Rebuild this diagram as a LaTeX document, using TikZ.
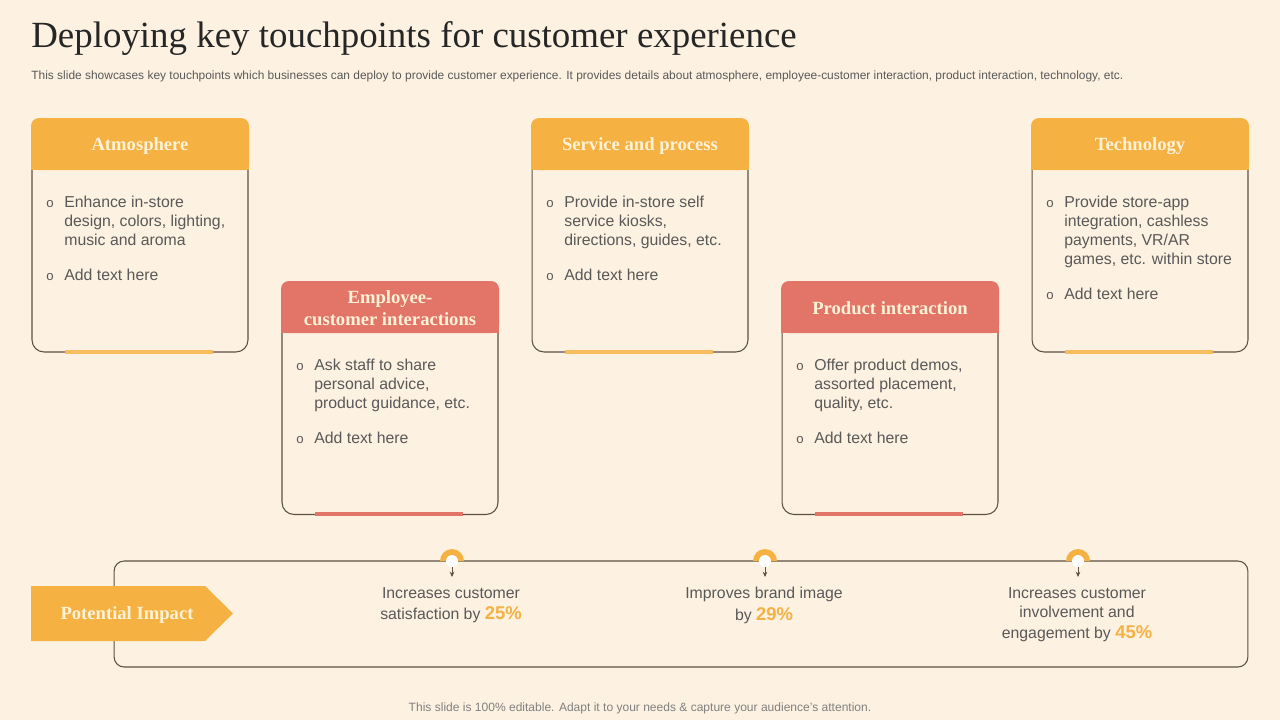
\documentclass[tikz,border=0pt]{standalone}
\usepackage{fontspec}
\setmainfont{Liberation Serif}
\setsansfont{Liberation Sans}
\usetikzlibrary{arrows.meta}
\definecolor{slidecream}{RGB}{253,241,225}
\definecolor{touchamber}{RGB}{245,177,66}
\definecolor{touchsalmon}{RGB}{226,116,104}
\definecolor{edgebrown}{RGB}{95,80,66}
\definecolor{bodygray}{RGB}{89,89,89}
\definecolor{notegray}{RGB}{128,128,128}
\definecolor{headcream}{RGB}{255,242,214}
\newcommand\cardbullet{\makebox[0.36cm][l]{\fontsize{7.5}{9}\selectfont o}}
\newcommand\cardindent{\hspace*{0.36cm}}
\newcommand\impactpct[1]{{\bfseries\color{touchamber}\fontsize{10.5}{11}\selectfont #1}}

\begin{document}
\begin{tikzpicture}[x=0.02cm, y=-0.02cm,
    cardbox/.style={draw=edgebrown, line width=0.6pt, fill=slidecream, rounded corners=0.24cm, minimum width=4.32cm, minimum height=4.24cm, inner sep=0},
    headtext/.style={text=headcream, font=\bfseries\fontsize{10.6}{12.5}\selectfont, align=center, inner sep=0},
    cardtext/.style={anchor=north west, inner sep=0, text=bodygray, font=\sffamily\fontsize{9}{10.8}\selectfont, align=left},
    accentline/.style={line width=2.5pt},
    impacttext/.style={anchor=north, inner sep=0, text=bodygray, font=\sffamily\fontsize{9}{10.8}\selectfont, align=center},
    pindot/.style={circle, fill=white, minimum size=0.24cm, inner sep=0},
    pinarrow/.style={-{Stealth[length=3pt,width=2.6pt]}, draw=edgebrown, line width=0.4pt}
]
\fill[slidecream] (0,0) rectangle (1280,720);
\useasboundingbox (0,0) rectangle (1280,720);

% title and notes
\node[anchor=base west, inner sep=0, text=black!85, font=\fontsize{21}{24}\selectfont] (title) at (31,47) {Deploying key touchpoints for customer experience};
\node[anchor=west, inner sep=0, text=bodygray, font=\sffamily\fontsize{6.8}{7}\selectfont] (subtitle) at (31,76) {This slide showcases key touchpoints which businesses can deploy to provide customer experience. It provides details about atmosphere, employee-customer interaction, product interaction, technology, etc.};
\node[inner sep=0, text=notegray, font=\sffamily\fontsize{6.85}{7}\selectfont] (footer) at (640,708) {This slide is 100\% editable. Adapt it to your needs \& capture your audience's attention.};

% atmosphere
\node[cardbox] (atm) at (140,246) {};
\fill[touchamber, rounded corners=0.16cm] (31,118) rectangle (249,170);
\fill[touchamber] (31,150) rectangle (249,170);
\node[headtext] (atmT) at (140,146.5) {Atmosphere};
\node[cardtext] (atmX) at (46,196) {\cardbullet Enhance in-store\\ \cardindent design, colors, lighting,\\ \cardindent music and aroma\\[9pt] \cardbullet Add text here};
\draw[accentline, touchamber!85] (65,352) -- (213,352);

% employee-customer interactions
\node[cardbox] (emp) at (390,408.5) {};
\fill[touchsalmon, rounded corners=0.16cm] (281,281) rectangle (499,333);
\fill[touchsalmon] (281,313) rectangle (499,333);
\node[headtext] (empT) at (390,308) {Employee-\\customer interactions};
\node[cardtext] (empX) at (296,359) {\cardbullet Ask staff to share\\ \cardindent personal advice,\\ \cardindent product guidance, etc.\\[9pt] \cardbullet Add text here};
\draw[accentline, touchsalmon] (315,514) -- (463,514);

% service and process
\node[cardbox] (srv) at (640,246) {};
\fill[touchamber, rounded corners=0.16cm] (531,118) rectangle (749,170);
\fill[touchamber] (531,150) rectangle (749,170);
\node[headtext] (srvT) at (640,146.5) {Service and process};
\node[cardtext] (srvX) at (546,196) {\cardbullet Provide in-store self\\ \cardindent service kiosks,\\ \cardindent directions, guides, etc.\\[9pt] \cardbullet Add text here};
\draw[accentline, touchamber!85] (565,352) -- (713,352);

% product interaction
\node[cardbox] (prd) at (890,408.5) {};
\fill[touchsalmon, rounded corners=0.16cm] (781,281) rectangle (999,333);
\fill[touchsalmon] (781,313) rectangle (999,333);
\node[headtext] (prdT) at (890,308.5) {Product interaction};
\node[cardtext] (prdX) at (796,359) {\cardbullet Offer product demos,\\ \cardindent assorted placement,\\ \cardindent quality, etc.\\[9pt] \cardbullet Add text here};
\draw[accentline, touchsalmon] (815,514) -- (963,514);

% technology
\node[cardbox] (tec) at (1140,246) {};
\fill[touchamber, rounded corners=0.16cm] (1031,118) rectangle (1249,170);
\fill[touchamber] (1031,150) rectangle (1249,170);
\node[headtext] (tecT) at (1140,146.5) {Technology};
\node[cardtext] (tecX) at (1046,196) {\cardbullet Provide store-app\\ \cardindent integration, cashless\\ \cardindent payments, VR/AR\\ \cardindent games, etc. within store\\[9pt] \cardbullet Add text here};
\draw[accentline, touchamber!85] (1065,352) -- (1213,352);

% potential impact
\node[draw=edgebrown, line width=0.6pt, rounded corners=0.2cm, minimum width=22.68cm, minimum height=2.12cm, inner sep=0] (impact) at (681,614) {};
\fill[touchamber] (31,586) -- (205,586) -- (233,613.5) -- (205,641) -- (31,641) -- cycle;
\node[headtext] (pot) at (127,615.5) {Potential Impact};

\fill[touchamber] (440,561) arc[start angle=180, end angle=0, radius=0.24cm];
\fill[touchamber] (753,561) arc[start angle=180, end angle=0, radius=0.24cm];
\fill[touchamber] (1066,561) arc[start angle=180, end angle=0, radius=0.24cm];
\node[pindot] (pin1) at (452,561) {};
\node[pindot] (pin2) at (765,561) {};
\node[pindot] (pin3) at (1078,561) {};
\coordinate (tip1) at (452,577);
\coordinate (tip2) at (765,577);
\coordinate (tip3) at (1078,577);
\draw[pinarrow] (pin1) -- (tip1);
\draw[pinarrow] (pin2) -- (tip2);
\draw[pinarrow] (pin3) -- (tip3);

\node[impacttext] (imp1) at (451,587) {Increases customer\\[1.5pt] satisfaction by \impactpct{25\%}};
\node[impacttext] (imp2) at (764,587) {Improves brand image\\[1.5pt] by \impactpct{29\%}};
\node[impacttext] (imp3) at (1077,587) {Increases customer\\ involvement and\\[1.5pt] engagement by \impactpct{45\%}};
\end{tikzpicture}
\end{document}
